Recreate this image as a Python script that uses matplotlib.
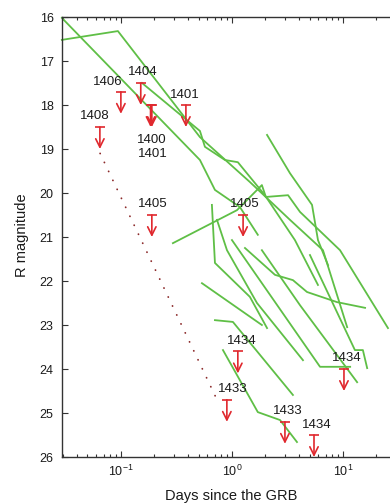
import matplotlib
matplotlib.use("Agg")
import matplotlib.pyplot as plt

plt.rcParams['font.family'] = ['Liberation Sans', 'DejaVu Sans']
plt.rcParams['mathtext.default'] = 'regular'

# afterglow light curves, days since GRB vs R magnitude
grb1_t = [0.0294, 0.515, 0.703, 1.18, 1.71]
grb1_m = [16.02, 19.25, 19.93, 20.32, 20.95]

grb2_t = [0.0294, 0.094, 0.515, 1.45, 3.33, 6.60, 10.9]
grb2_m = [16.52, 16.32, 18.73, 19.75, 20.61, 21.30, 23.05]

grb3_t = [0.155, 0.515, 0.571, 0.865, 1.13, 1.98, 3.69, 5.95]
grb3_m = [17.50, 18.59, 18.95, 19.25, 19.30, 20.05, 21.07, 22.09]

grb4_t = [2.07, 3.33, 5.26, 5.95, 7.33]
grb4_m = [18.68, 19.55, 20.27, 21.07, 21.64]

grb5_t = [0.294, 1.11, 1.86, 2.02, 3.20, 4.10, 9.40, 25.4]
grb5_m = [21.14, 20.39, 19.82, 20.09, 20.05, 20.43, 21.30, 23.07]

grb6_t = [0.660, 0.703, 1.45, 2.07]
grb6_m = [20.27, 21.59, 22.36, 23.07]

grb7_t = [0.733, 0.902, 1.68, 4.36]
grb7_m = [20.61, 21.30, 22.50, 23.80]

grb8_t = [0.537, 1.86]
grb8_m = [22.05, 23.00]

grb9_t = [0.703, 1.02, 3.54]
grb9_m = [22.89, 22.93, 24.59]

grb10_t = [0.830, 1.71, 2.71, 3.85]
grb10_m = [23.57, 24.98, 25.16, 25.66]

grb11_t = [1.0, 6.21, 11.6]
grb11_m = [21.07, 23.95, 23.95]

grb12_t = [1.86, 4.10, 13.4]
grb12_m = [21.30, 22.55, 24.30]

grb13_t = [5.04, 12.8, 15.1, 16.5]
grb13_m = [21.41, 23.57, 23.57, 23.98]

grb14_t = [1.31, 2.44, 3.54, 4.74, 8.83, 15.8]
grb14_m = [21.25, 21.86, 21.98, 22.25, 22.48, 22.61]

# upper limits
lim_t = [0.0647, 0.100, 0.151, 0.185, 0.190, 0.385, 0.19, 1.26, 1.13, 0.90, 3.0, 5.48, 10.2]
lim_m = [18.5, 17.7, 17.5, 18.0, 18.0, 18.0, 20.5, 20.5, 23.6, 24.7, 25.2, 25.5, 24.0]
lim_labels = ['1408', '1406', '1404', '1400', '1401', '1401', '1405', '1405',
              '1434', '1433', '1433', '1434', '1434']

# dotted decay track
track_t = [0.065, 0.75]
track_m = [19.1, 24.75]

# label offsets from the cap, pixels
lab_dx = [-5, -13, 2, 1, 1, -1, 1, 2, 4, 6, 3, 3, 3]
lab_dy = [11, 10, 11, -35, -49, 10, 11, 11, 10, 11, 11, 10, 11]

green = '#5fbf46'
red = '#e0282e'

fig = plt.figure(figsize=(3.9, 5.04), dpi=100)
# right edge of the axes falls just outside the picture, as in the cropped original
ax = fig.add_axes([62 / 390, 47 / 504, 334 / 390, 440 / 504])

curves = [(grb1_t, grb1_m), (grb2_t, grb2_m), (grb3_t, grb3_m), (grb4_t, grb4_m),
          (grb5_t, grb5_m), (grb6_t, grb6_m), (grb7_t, grb7_m), (grb8_t, grb8_m),
          (grb9_t, grb9_m), (grb10_t, grb10_m), (grb11_t, grb11_m), (grb12_t, grb12_m),
          (grb13_t, grb13_m), (grb14_t, grb14_m)]
for t, m in curves:
    ax.plot(t, m, color=green, lw=1.3, solid_joinstyle='round', clip_on=False)

ax.plot(track_t, track_m, color='#8c2a2a', lw=1.3, linestyle=(0, (0.1, 5.4)),
        dash_capstyle='round')

for i in range(len(lim_t)):
    t = lim_t[i]
    m = lim_m[i]
    ax.annotate('', xy=(t, m + 0.5), xytext=(t, m),
                arrowprops=dict(arrowstyle='->,head_length=0.6,head_width=0.3',
                                color=red, lw=1.2, shrinkA=0, shrinkB=0))
    ax.plot([t], [m], marker='_', ms=7, mew=1.2, color=red)
    ax.annotate(lim_labels[i], xy=(t, m), xytext=(lab_dx[i], lab_dy[i]),
                textcoords='offset pixels', ha='center', va='center',
                fontsize=9.5, color='#1a1a1a')

ax.set_xscale('log')
ax.set_xlim(0.0295, 30)
ax.set_ylim(26, 16)
ax.set_yticks(range(16, 27))

ax.tick_params(which='both', direction='in', top=True, right=False,
               colors='#333333', labelcolor='#1a1a1a')
ax.tick_params(which='major', length=4, width=0.8, labelsize=9, pad=6)
ax.tick_params(which='minor', length=2.5, width=0.8)
ax.tick_params(axis='x', which='major', pad=5)
for s in ['left', 'bottom', 'top']:
    ax.spines[s].set_color('#333333')
    ax.spines[s].set_linewidth(1.0)
ax.spines['right'].set_visible(False)

fig.text(231 / 390, 1 - 496 / 504, 'Days since the GRB', ha='center', va='center',
         fontsize=10.5, color='#1a1a1a')
fig.text(22 / 390, 1 - 235 / 504, 'R magnitude', ha='center', va='center',
         rotation=90, fontsize=10.5, color='#1a1a1a')

fig.savefig('out.png', dpi=100)
